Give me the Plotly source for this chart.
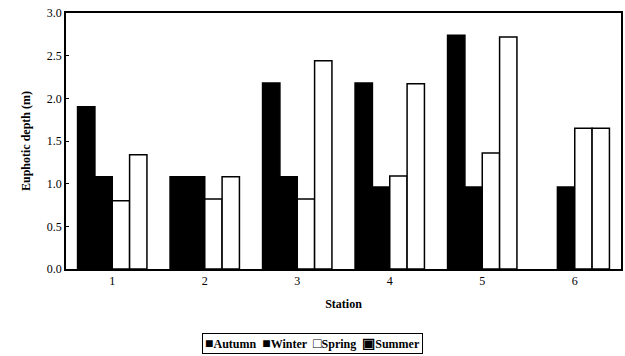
import plotly.graph_objects as go

stations = ["1", "2", "3", "4", "5", "6"]
autumn = [1.90, 1.08, 2.18, 2.18, 2.74, None]
winter = [1.08, 1.08, 1.08, 0.96, 0.96, 0.96]
spring = [0.80, 0.82, 0.82, 1.09, 1.36, 1.65]
summer = [1.34, 1.08, 2.44, 2.17, 2.72, 1.65]

series = [
    ("Autumn", autumn, "black", "■"),
    ("Winter", winter, "black", "■"),
    ("Spring", spring, "white", "□"),
    ("Summer", summer, "white", "▣"),
]

fig = go.Figure()
for name, vals, col, sym in series:
    fig.add_trace(go.Bar(
        x=stations, y=vals, name=name, showlegend=False,
        marker=dict(color=col, line=dict(color="black", width=1.5)),
    ))

font = "Liberation Serif"
legend_text = "&nbsp;&nbsp;".join(
    f"<span style='font-size:14px'>{sym}</span>{name}" for name, _, _, sym in series
)
fig.add_annotation(
    text=f"<b>{legend_text}</b>", xref="paper", yref="paper",
    x=0.445, y=-0.29, xanchor="center", yanchor="middle", showarrow=False,
    font=dict(family=font, size=12, color="black"),
    bordercolor="black", borderwidth=1, borderpad=2, bgcolor="white",
)

fig.update_layout(
    width=625, height=356,
    margin=dict(l=66, r=2, t=13, b=87),
    paper_bgcolor="white", plot_bgcolor="white",
    barmode="group", bargap=0.25, bargroupgap=0,
    font=dict(family=font, size=12, color="black"),
    showlegend=False,
)
fig.update_xaxes(
    showline=True, linecolor="black", linewidth=1.5, mirror=True,
    ticks="", showgrid=False,
    tickfont=dict(family=font, size=12),
    title=dict(text="<b>Station</b>", font=dict(family=font, size=12), standoff=12),
)
fig.update_yaxes(
    range=[0, 3.0], dtick=0.5, tickformat=".1f",
    showline=True, linecolor="black", linewidth=1.5, mirror=True,
    ticks="inside", ticklen=3, tickcolor="black", showgrid=False, zeroline=False,
    tickfont=dict(family=font, size=12),
    title=dict(text="<b>Euphotic depth (m)</b>", font=dict(family=font, size=12), standoff=14),
)

fig.write_html("out.html")
